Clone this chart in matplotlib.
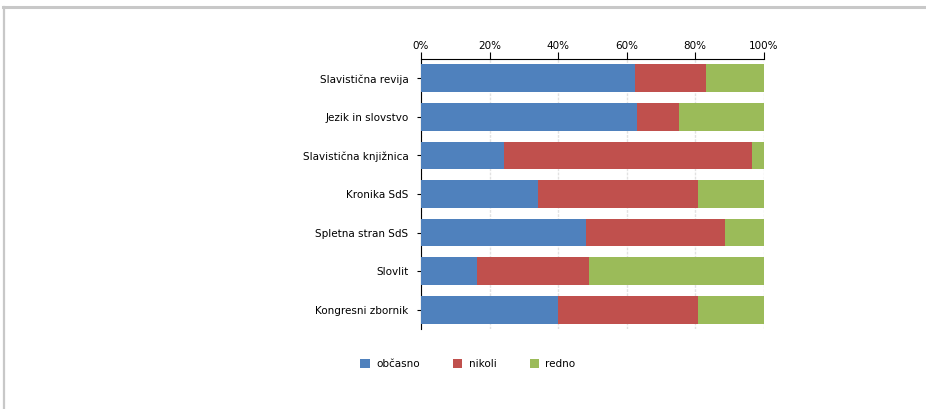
import matplotlib
matplotlib.use('Agg')
import matplotlib.pyplot as plt
from matplotlib.lines import Line2D
from matplotlib.ticker import PercentFormatter

plt.rcParams.update({
    'font.family': 'DejaVu Sans',
    'font.size': 7.5,
})

# ── Data ─────────────────────────────────────────────────────────────
categories = ['Slavistična revija', 'Jezik in slovstvo', 'Slavistična knjižnica',
              'Kronika SdS', 'Spletna stran SdS', 'Slovlit', 'Kongresni zbornik']
obcasno = [62.6, 63.2, 24.2, 34.1, 48.1, 16.4, 39.9]
nikoli = [20.5, 12.0, 72.3, 46.7, 40.6, 32.6, 40.9]
redno = [16.9, 24.8, 3.5, 19.2, 11.3, 51.0, 19.2]
series_labels = ['občasno', 'nikoli', 'redno']

BLUE = '#4F81BD'
RED = '#C0504D'
GREEN = '#9BBB59'

fig = plt.figure(figsize=(9.26, 4.09), dpi=100)
fig.patch.set_facecolor('white')

# outer frame (top + left only)
fig.add_artist(Line2D([3 / 926, 1], [1 - 6.5 / 409, 1 - 6.5 / 409],
                      transform=fig.transFigure, color='#C8C8C8', lw=2.2))
fig.add_artist(Line2D([4 / 926, 4 / 926], [0, 1 - 6.5 / 409],
                      transform=fig.transFigure, color='#C8C8C8', lw=1.6))

ax = fig.add_axes([421 / 926, 1 - 329 / 409, 342.5 / 926, 270 / 409])

ypos = list(range(len(categories)))
h = 0.72
left1 = obcasno
left2 = [a + b for a, b in zip(obcasno, nikoli)]
b1 = ax.barh(ypos, obcasno, height=h, color=BLUE, label=series_labels[0], zorder=3)
b2 = ax.barh(ypos, nikoli, left=left1, height=h, color=RED, label=series_labels[1], zorder=3)
b3 = ax.barh(ypos, redno, left=left2, height=h, color=GREEN, label=series_labels[2], zorder=3)

ax.set_xlim(0, 100)
ax.set_ylim(len(categories) - 0.5, -0.5)
ax.set_yticks(ypos)
ax.set_yticklabels(categories)
ax.set_xticks([0, 20, 40, 60, 80, 100])
ax.xaxis.set_major_formatter(PercentFormatter(decimals=0))
ax.xaxis.tick_top()
ax.tick_params(axis='x', direction='out', length=5, width=0.8, pad=1, colors='black')
ax.tick_params(axis='y', direction='out', length=3, width=0.8, pad=6)

ax.xaxis.grid(True, color='#E2E2E2', lw=1.0, ls=(0, (2, 1)), zorder=0)
for side in ['right', 'bottom']:
    ax.spines[side].set_visible(False)
ax.spines['top'].set_linewidth(0.8)
ax.spines['left'].set_linewidth(0.8)

fig.legend(handles=[b1, b2, b3], labels=series_labels, loc='center',
           bbox_to_anchor=(468 / 926, 1 - 364 / 409), ncol=3, frameon=False,
           handlelength=0.9, handleheight=0.9, handletextpad=0.6,
           columnspacing=3.2, fontsize=7.5)

fig.savefig('out.png', dpi=100, facecolor='white')
